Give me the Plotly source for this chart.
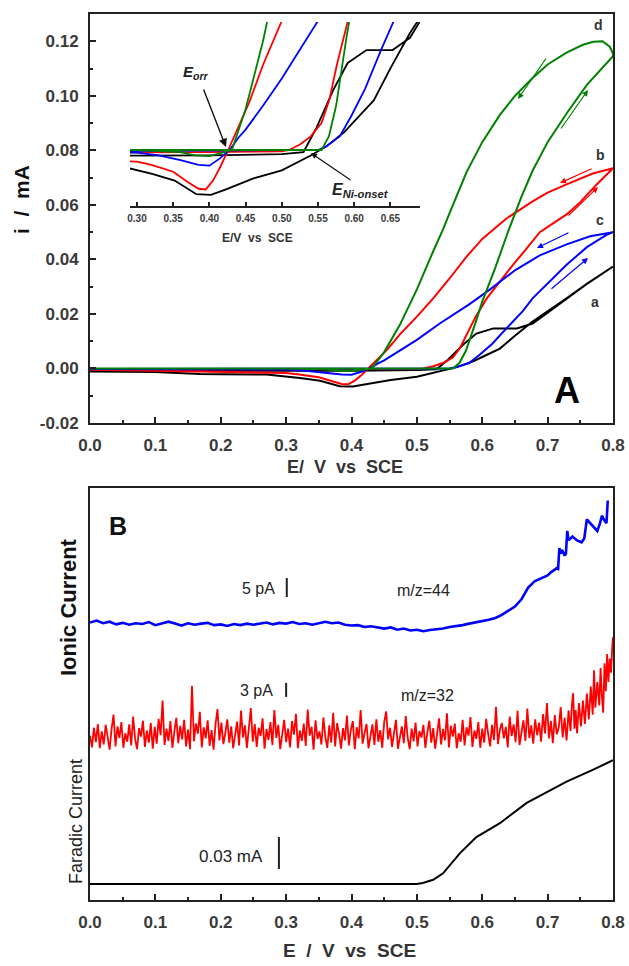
import numpy as np
import plotly.graph_objects as go

W, H = 629, 966

# ---------------- Panel A data (E / V vs SCE, i / mA) ----------------
# curve a (black)
Ea_fwd = [0.0, 0.1, 0.2, 0.3, 0.4, 0.5, 0.53, 0.548, 0.571, 0.591, 0.617, 0.653, 0.677, 0.70, 0.729, 0.76, 0.80]
ia_fwd = [-0.0009, -0.0009, -0.0009, -0.0008, -0.0008, -0.0006, -0.0003, 0.0033, 0.0088, 0.0128, 0.0147, 0.0147, 0.0165, 0.0205, 0.0257, 0.031, 0.0374]
Ea_rev = [0.80, 0.76, 0.729, 0.70, 0.677, 0.65, 0.627, 0.60, 0.586, 0.561, 0.54, 0.50, 0.46, 0.423, 0.402, 0.382, 0.352, 0.321, 0.30, 0.27, 0.20, 0.168, 0.10, 0.0]
ia_rev = [0.0374, 0.031, 0.0257, 0.021, 0.0172, 0.012, 0.0073, 0.0042, 0.0026, 0.0005, -0.0008, -0.003, -0.0042, -0.0058, -0.0066, -0.0065, -0.0045, -0.0035, -0.003, -0.0022, -0.0021, -0.002, -0.0013, -0.0011]
# curve b (red)
Eb_fwd = [0.0, 0.1, 0.2, 0.3, 0.4, 0.5, 0.51, 0.525, 0.54, 0.555, 0.566, 0.576, 0.59, 0.607, 0.627, 0.647, 0.668, 0.688, 0.71, 0.729, 0.75, 0.775, 0.80]
ib_fwd = [-0.0004, -0.0004, -0.0004, -0.0003, -0.0003, -0.0002, 0.0, 0.0008, 0.002, 0.004, 0.0075, 0.0125, 0.019, 0.0257, 0.032, 0.038, 0.044, 0.050, 0.0535, 0.0565, 0.061, 0.0675, 0.0734]
Eb_rev = [0.80, 0.769, 0.729, 0.70, 0.677, 0.637, 0.60, 0.576, 0.55, 0.525, 0.50, 0.474, 0.455, 0.44, 0.426, 0.415, 0.405, 0.395, 0.385, 0.37, 0.35, 0.32, 0.30, 0.25, 0.2, 0.1, 0.0]
ib_rev = [0.0734, 0.0715, 0.0675, 0.0645, 0.0613, 0.055, 0.0475, 0.041, 0.033, 0.0257, 0.019, 0.0125, 0.007, 0.0033, 0.0, -0.0025, -0.0045, -0.0058, -0.0057, -0.0047, -0.0032, -0.0022, -0.0017, -0.0015, -0.0012, -0.0008, -0.0005]
# curve c (blue)
Ec_fwd = [0.0, 0.1, 0.2, 0.3, 0.4, 0.5, 0.55, 0.561, 0.58, 0.596, 0.615, 0.637, 0.662, 0.677, 0.70, 0.729, 0.76, 0.79, 0.80]
ic_fwd = [-0.0002, -0.0002, -0.0002, -0.0001, -0.0001, 0.0, 0.0, 0.0005, 0.002, 0.005, 0.009, 0.0147, 0.021, 0.0257, 0.031, 0.038, 0.0445, 0.049, 0.050]
Ec_rev = [0.80, 0.765, 0.729, 0.688, 0.65, 0.612, 0.58, 0.55, 0.535, 0.50, 0.474, 0.45, 0.44, 0.428, 0.415, 0.40, 0.385, 0.36, 0.33, 0.30, 0.2, 0.1, 0.0]
ic_rev = [0.050, 0.0485, 0.0455, 0.0415, 0.036, 0.029, 0.0235, 0.019, 0.0165, 0.0105, 0.0065, 0.003, 0.0018, 0.0, -0.0012, -0.0023, -0.0022, -0.0015, -0.0008, -0.0004, -0.0003, -0.0002, -0.0002]
# curve d (green)
Ed_fwd = [0.0, 0.1, 0.2, 0.3, 0.4, 0.5, 0.555, 0.565, 0.575, 0.59, 0.60, 0.62, 0.64, 0.66, 0.677, 0.70, 0.729, 0.76, 0.80]
id_fwd = [0.0, 0.0, 0.0, 0.0, 0.0, 0.0, 0.0, 0.002, 0.0065, 0.017, 0.0245, 0.037, 0.0505, 0.063, 0.0725, 0.083, 0.0935, 0.104, 0.1145]
Ed_rev = [0.80, 0.795, 0.784, 0.77, 0.754, 0.729, 0.70, 0.677, 0.65, 0.627, 0.60, 0.576, 0.55, 0.54, 0.525, 0.50, 0.474, 0.45, 0.431, 0.42, 0.40, 0.38, 0.36, 0.3, 0.0]
id_rev = [0.1155, 0.118, 0.120, 0.1198, 0.1187, 0.1158, 0.1115, 0.1065, 0.100, 0.093, 0.083, 0.072, 0.057, 0.051, 0.043, 0.029, 0.016, 0.006, 0.0, -0.0003, -0.0009, -0.0008, -0.0003, 0.0, 0.0]

# ---------------- Panel B data ----------------
# m/z = 44 (pA, relative)
E44_a = [round(0.01 * k, 2) for k in range(71)]
I44_a = [0.4, 0.9, 0.2, 0.6, -0.1, 0.3, -0.2, 0.2, 0.0, 0.5,
         -0.3, 0.2, 0.6, 0.1, -0.4, 0.2, -0.2, 0.1, 0.3, -0.3,
         -0.1, -0.5, 0.0, -0.3, 0.1, -0.2, 0.2, 0.4, -0.1, 0.3,
         0.1, 0.5, 0.0, 0.2, -0.2, 0.3, 0.6, 0.2, 0.4, -0.2,
         -0.4, -0.3, -0.8, -0.6, -1.0, -1.2, -0.9, -1.5, -1.2, -1.7,
         -1.5, -1.9, -1.6, -1.4, -1.2, -0.8, -0.6, -0.3, 0.1, 0.4,
         0.8, 1.1, 1.6, 2.4, 3.5, 4.6, 6.5, 9.5, 11.2, 12.0, 12.8]
E44_b = [0.705, 0.714, 0.716, 0.718, 0.720, 0.722, 0.726, 0.728, 0.730, 0.732, 0.738, 0.745, 0.752, 0.756, 0.760, 0.765, 0.772, 0.776, 0.780, 0.783, 0.786, 0.790, 0.792]
I44_b = [13.6, 14.7, 14.5, 20.0, 18.5, 19.5, 18.0, 18.5, 24.5, 22.0, 23.0, 22.0, 21.5, 22.5, 27.5, 26.5, 25.0, 24.5, 26.5, 28.5, 27.5, 26.5, 32.5]

# m/z = 32 (pA, relative), sampled every 3 mV from 0 to 0.732 V
I32_a = [3.5, 1.0, 5.2, 2.1, 6.0, 0.8, 4.4, 1.6, 5.8, 2.6,
         0.5, 4.9, 8.0, 1.2, 5.5, 3.0, 6.4, 0.9, 4.0, 2.2,
         5.9, 1.4, 7.6, 2.8, 0.6, 5.1, 3.3, 6.7, 1.1, 4.6,
         2.0, 6.2, 0.7, 5.4, 1.8, 7.1, 3.6, 11.0, 1.5, 5.0,
         2.4, 6.6, 0.9, 4.3, 7.3, 1.9, 5.6, 2.7, 6.9, 1.2,
         4.8, 0.6, 14.2, 2.3, 6.1, 3.9, 8.6, 1.0, 5.3, 2.9,
         6.8, 1.3, 4.7, 0.5, 5.9, 9.2, 2.5, 6.3, 1.7, 4.1,
         7.0, 2.0, 5.5, 0.8, 3.8, 6.5, 1.4, 8.9, 3.1, 5.7,
         0.9, 4.5, 9.4, 2.2, 6.0, 1.1, 5.2, 3.4, 7.2, 0.7,
         4.9, 2.6, 6.4, 1.5, 9.0, 3.0, 5.8, 0.6, 4.2, 6.9,
         2.1, 5.0, 1.0, 6.6, 3.7, 8.2, 0.8, 4.6, 2.4, 6.1,
         1.3, 9.1, 3.5, 5.4, 0.5, 6.8, 2.8, 4.4, 1.6, 7.4,
         3.2, 0.9, 5.7, 2.0, 8.4, 1.2, 6.2, 3.9, 0.7, 5.1,
         2.5, 7.8, 1.4, 4.8, 6.6, 0.6, 5.3, 2.9, 9.0, 1.8,
         4.1, 6.0, 0.8, 3.3, 5.9, 1.5, 7.0, 2.2, 4.7, 0.9,
         6.4, 8.7, 2.7, 5.2, 1.1, 4.0, 6.9, 0.7, 3.6, 5.5,
         1.9, 7.7, 3.0, 0.6, 5.0, 2.3, 6.3, 1.2, 4.5, 3.1,
         5.8, 0.9, 4.2, 6.7, 2.0, 5.1, 0.7, 3.8, 7.2, 1.6,
         4.9, 2.5, 8.3, 1.0, 5.6, 3.3, 6.1, 0.8, 4.0, 2.2,
         6.9, 1.4, 5.3, 3.5, 7.5, 1.1, 4.6, 2.8, 6.4, 0.9,
         5.0, 2.0, 7.1, 3.9, 1.2, 5.8, 2.6, 9.7, 1.7, 4.8,
         6.2, 2.9, 5.4, 1.0, 7.6, 3.4, 5.9, 2.1, 8.8, 1.5,
         4.3, 6.8, 2.4, 9.3, 3.0, 5.7, 1.8, 7.0, 3.6, 6.3,
         2.2, 8.1, 4.0, 10.5, 2.9, 6.6, 1.9, 7.9, 3.8, 5.2,
         9.6, 3.1, 7.3, 2.5, 8.9]
E32_a = list(np.round(np.linspace(0.0, 0.732, len(I32_a)), 4))
E32_b = [0.735, 0.737, 0.739, 0.741, 0.743, 0.745, 0.748, 0.751, 0.754, 0.757, 0.760, 0.763, 0.766, 0.769, 0.771, 0.773, 0.776, 0.779, 0.781, 0.783, 0.785, 0.787, 0.789, 0.791, 0.793, 0.795, 0.797, 0.799, 0.800]
I32_b = [4.5, 10.0, 12.6, 5.0, 9.0, 4.0, 10.5, 5.5, 11.0, 6.0, 12.5, 7.0, 14.0, 8.0, 17.5, 9.5, 15.0, 10.0, 18.0, 12.0, 8.4, 19.0, 13.0, 21.0, 15.0, 20.0, 17.0, 23.0, 24.6]

# faradaic current (mA, relative)
EF = [0.0, 0.1, 0.2, 0.3, 0.4, 0.5, 0.509, 0.525, 0.540, 0.553, 0.566, 0.591, 0.627, 0.668, 0.699, 0.729, 0.769, 0.80]
IF = [0.0, 0.0, 0.0, 0.0, 0.0, 0.0, 0.001, 0.004, 0.010, 0.019, 0.029, 0.044, 0.057, 0.076, 0.086, 0.096, 0.107, 0.116]

inset_ticks = [0.30, 0.35, 0.40, 0.45, 0.50, 0.55, 0.60, 0.65]

# ---------------- layout helpers ----------------
def px(x):
    return x / W

def py(y):
    return 1 - y / H

COL = {"a": "#000000", "b": "#ff0000", "c": "#0000ff", "d": "#008000"}
FONT = "Arial, Liberation Sans, sans-serif"
TICKCOL = "#3a3a3a"
NB = "\u00a0"

fig = go.Figure()

curves = [("a", Ea_fwd, ia_fwd, Ea_rev, ia_rev),
          ("b", Eb_fwd, ib_fwd, Eb_rev, ib_rev),
          ("c", Ec_fwd, ic_fwd, Ec_rev, ic_rev),
          ("d", Ed_fwd, id_fwd, Ed_rev, id_rev)]
for name, ef, jf, er, jr in curves:
    for xa, ya, w in (("x", "y", 2), ("x3", "y3", 1.8)):
        fig.add_trace(go.Scatter(x=ef + er, y=jf + jr, mode="lines",
                                 line=dict(color=COL[name], width=w),
                                 xaxis=xa, yaxis=ya, showlegend=False,
                                 cliponaxis=True))

fig.add_trace(go.Scatter(x=E44_a + E44_b, y=I44_a + I44_b, mode="lines",
                         line=dict(color="#0000ff", width=2.6), xaxis="x2", yaxis="y2", showlegend=False))
fig.add_trace(go.Scatter(x=E32_a + E32_b, y=I32_a + I32_b, mode="lines",
                         line=dict(color="#ff0000", width=1.8), xaxis="x2", yaxis="y4", showlegend=False))
fig.add_trace(go.Scatter(x=EF, y=IF, mode="lines",
                         line=dict(color="#000000", width=2), xaxis="x2", yaxis="y5", showlegend=False))

tickfont = dict(family=FONT, size=17, color=TICKCOL, weight="bold")
common_x = dict(range=[0, 0.8], tickvals=[0, 0.1, 0.2, 0.3, 0.4, 0.5, 0.6, 0.7, 0.8],
                ticktext=["0.0", "0.1", "0.2", "0.3", "0.4", "0.5", "0.6", "0.7", "0.8"],
                ticks="inside", ticklen=6, tickwidth=2, tickcolor="#222",
                minor=dict(ticks="inside", ticklen=3, tickwidth=1.5, tickvals=[0.05, 0.15, 0.25, 0.35, 0.45, 0.55, 0.65, 0.75], tickcolor="#222"),
                showline=True, linewidth=2, linecolor="#222", mirror=True, automargin=False,
                showgrid=False, zeroline=False, tickfont=tickfont, ticklabelstandoff=6)

# panel B y-scales (pixel per unit), baselines in pixels
B_top, B_bot = 488, 900
s44, base44 = 3.8, 624
s32, base32 = 4.67, 752
sF, baseF = 1067.0, 884

A_top, A_bot = 14, 423
yA_min, yA_max = -0.02, 0.13
# inset
I_l, I_r, I_top, I_bot = 130, 420, 22, 206
I_x0_px, I_pxperV = 137, 724.0
I_base, I_k = 150, 6800.0

fig.update_layout(
    width=W, height=H, margin=dict(l=0, r=0, t=0, b=0, autoexpand=False),
    paper_bgcolor="white", plot_bgcolor="rgba(0,0,0,0)",
    xaxis=dict(domain=[px(90), px(613)], anchor="y", **common_x),
    yaxis=dict(domain=[py(A_bot), py(A_top)], anchor="x", range=[yA_min, yA_max],
               tickvals=[-0.02, 0.0, 0.02, 0.04, 0.06, 0.08, 0.10, 0.12],
               ticktext=["-0.02", "0.00", "0.02", "0.04", "0.06", "0.08", "0.10", "0.12"],
               ticks="inside", ticklen=6, tickwidth=2, tickcolor="#222",
               minor=dict(ticks="inside", ticklen=3, tickwidth=1.5, tickvals=[-0.01, 0.01, 0.03, 0.05, 0.07, 0.09, 0.11], tickcolor="#222"),
               showline=True, linewidth=2, linecolor="#222", mirror=True, automargin=False,
               showgrid=False, zeroline=False, tickfont=tickfont, ticklabelstandoff=6),
    xaxis2=dict(domain=[px(90), px(613)], anchor="y2", **common_x),
    yaxis2=dict(domain=[py(B_bot), py(B_top)], anchor="x2",
                range=[-(B_bot - base44) / s44, (base44 - B_top) / s44],
                showline=True, linewidth=2, linecolor="#222", mirror=True, automargin=False,
                ticks="", showticklabels=False, showgrid=False, zeroline=False),
    yaxis4=dict(overlaying="y2", anchor="x2", range=[-(B_bot - base32) / s32, (base32 - B_top) / s32],
                visible=False, automargin=False),
    yaxis5=dict(overlaying="y2", anchor="x2", range=[-(B_bot - baseF) / sF, (baseF - B_top) / sF],
                visible=False, automargin=False),
    xaxis3=dict(domain=[px(I_l), px(I_r)], anchor="y3",
                range=[0.30 - (I_x0_px - I_l) / I_pxperV, 0.30 + (I_r - I_x0_px) / I_pxperV],
                tickvals=inset_ticks, ticktext=["%.2f" % t for t in inset_ticks],
                ticks="inside", ticklen=4, tickwidth=1.5, tickcolor="#222",
                showline=True, linewidth=1.5, linecolor="#222", mirror=False, automargin=False,
                showgrid=False, zeroline=False, ticklabelstandoff=2,
                tickfont=dict(family=FONT, size=10, color=TICKCOL, weight="bold")),
    yaxis3=dict(domain=[py(I_bot), py(I_top)], anchor="x3", automargin=False,
                range=[-(I_bot - I_base) / I_k, (I_base - I_top) / I_k], visible=False),
)

ann = []
def text(x, y, s, size=13, bold=True, color="#333", angle=0, family=FONT):
    ann.append(dict(x=px(x), y=py(y), xref="paper", yref="paper", text=s, showarrow=False,
                    textangle=angle, xanchor="center", yanchor="middle",
                    font=dict(family=family, size=size, color=color,
                              weight="bold" if bold else "normal")))

def arrow(xh, yh, xt, yt, color, head=2, width=1.2, size=1.0):
    ann.append(dict(x=px(xh), y=py(yh), xref="paper", yref="paper", ax=xt - xh, ay=yt - yh,
                    axref="pixel", ayref="pixel", text="", showarrow=True, arrowhead=head,
                    arrowsize=size, arrowwidth=width, arrowcolor=color))

def spaced(s, n=1):
    return s.replace(" ", " " + NB * n)

# axis titles
text(22, 200, spaced("i / mA", 1), size=21, color="#111", angle=-90)
text(345, 467, spaced("E/ V vs SCE", 1), size=18, color="#333")
text(350, 950, spaced("E / V vs SCE", 1), size=19, color="#333")
text(257, 238, spaced("E/V vs SCE", 1), size=12, color="#333")
# curve labels
text(598, 25, "d", size=14)
text(600, 155, "b", size=14)
text(600, 220, "c", size=14)
text(595, 302, "a", size=14)
text(567, 390, "A", size=36, color="#000")
# inset annotations
text(196, 72, "<i>E<sub>orr</sub></i>", size=15, color="#222")
text(360, 190, "<i>E<sub>Ni-onset</sub></i>", size=16, color="#222")
arrow(226, 147, 203, 88, "#111", head=2, width=1.4, size=1.2)
arrow(311, 153, 352, 181, "#111", head=2, width=1.2, size=1.0)
# scan-direction arrows
arrow(518, 99, 547, 57, "#008000")
arrow(588, 90, 560, 130, "#008000")
arrow(560, 183, 593, 168, "#ff0000")
arrow(598, 187, 567, 217, "#ff0000")
arrow(537, 248, 570, 232, "#0000ff")
arrow(588, 258, 550, 290, "#0000ff")
# panel B texts
text(118, 526, "B", size=25, color="#111")
text(68, 607, "Ionic Current", size=22, color="#111", angle=-90)
text(76, 822, "Faradic Current", size=18, bold=False, color="#222", angle=-90,
     family="Liberation Sans Narrow, Arial Narrow, Arial, sans-serif")
text(258, 588, "5 pA", size=16, bold=False, color="#222")
text(423, 590, "m/z=44", size=16, bold=False, color="#222")
text(256, 690, "3 pA", size=16, bold=False, color="#222")
text(427, 695, "m/z=32", size=16, bold=False, color="#222")
text(231, 856, "0.03 mA", size=17, bold=False, color="#222")
fig.update_layout(annotations=ann)

# scale bars in the units of each trace
fig.add_shape(type="line", xref="x2", yref="y2", x0=0.301, x1=0.301, y0=7.1, y1=12.1,
              line=dict(color="#222", width=2))
fig.add_shape(type="line", xref="x2", yref="y4", x0=0.300, x1=0.300, y0=11.8, y1=14.8,
              line=dict(color="#222", width=2))
fig.add_shape(type="line", xref="x2", yref="y5", x0=0.289, x1=0.289, y0=0.014, y1=0.044,
              line=dict(color="#222", width=2))

fig.write_html("out.html")
